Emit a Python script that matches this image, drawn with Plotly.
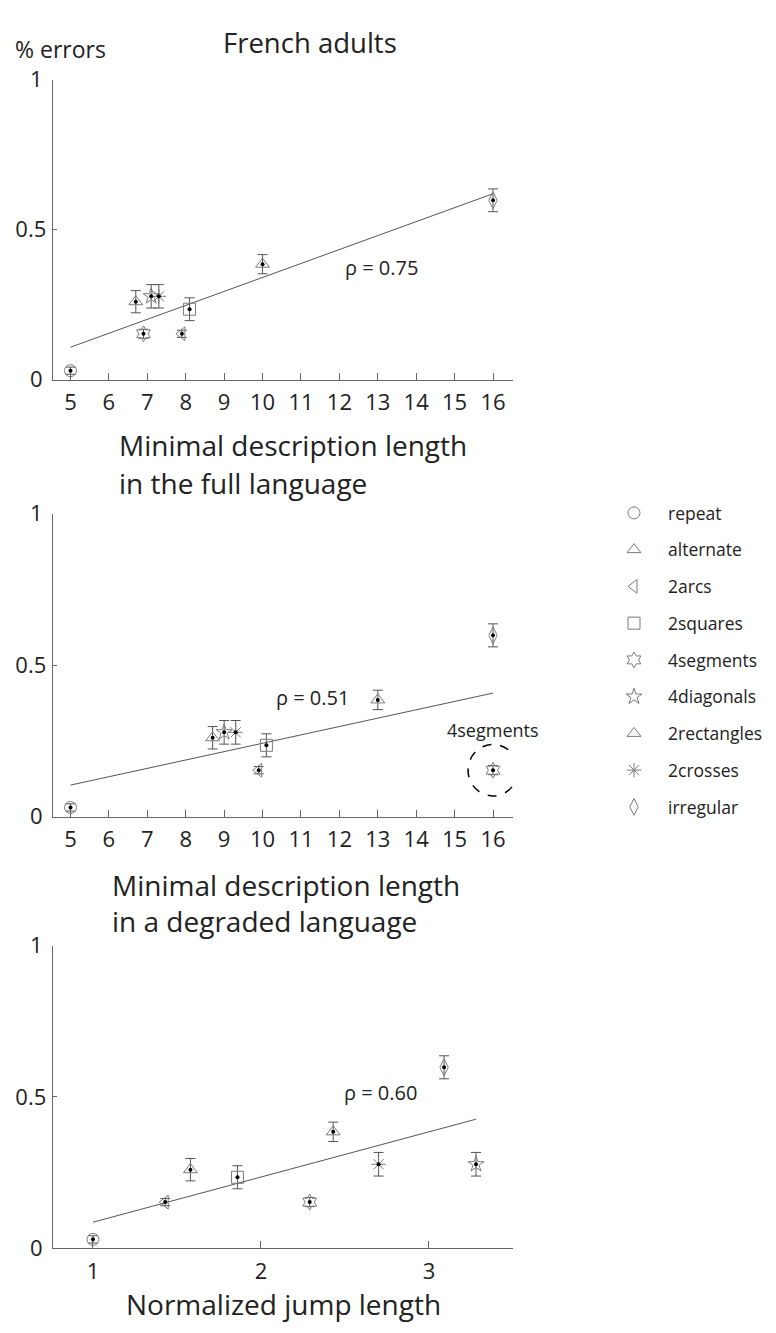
import numpy as np
import plotly.graph_objects as go

# shape categories and their markers
patterns = ['repeat', 'alternate', '2arcs', '2squares', '4segments',
            '4diagonals', '2rectangles', '2crosses', 'irregular']
symbols = ['circle-open', 'triangle-up-open', 'triangle-left-open', 'square-open',
           'hexagram-open', 'star-open', 'triangle-up-open', 'asterisk-open', 'diamond-tall-open']

# error rate (same in all three panels) and its standard error
err_rate = [0.03, 0.26, 0.153, 0.235, 0.153, 0.278, 0.385, 0.278, 0.598]
err_sem = [0.012, 0.037, 0.012, 0.038, 0.015, 0.039, 0.032, 0.039, 0.038]

# predictors
mdl_full = [5.0, 6.7, 7.9, 8.1, 6.9, 7.1, 10.0, 7.3, 16.0]
mdl_degraded = [5.0, 8.7, 9.9, 10.1, 16.0, 9.0, 13.0, 9.3, 16.0]
jump_length = [1.0, 1.58, 1.43, 1.86, 2.29, 3.28, 2.43, 2.70, 3.09]

rho_labels = ['ρ = 0.75', 'ρ = 0.51', 'ρ = 0.60']
rho_pos = [(13.1, 0.373), (11.3, 0.394), (2.71, 0.515)]

FONT = 'Open Sans'
TXT = '#222222'
GREY = '#7a7a7a'

# the page adds an 8px body margin, so the figure is a bit smaller than the window
W, H, OFF = 760, 1317, 8


def PX(a):
    return (a - OFF) / W


def PY(a):
    return 1 - (a - OFF) / H


fig = go.Figure()

panels = [(mdl_full, 'x', 'y'), (mdl_degraded, 'x2', 'y2'), (jump_length, 'x3', 'y3')]
for p, (xs, xa, ya) in enumerate(panels):
    # regression line
    k, b = np.polyfit(xs, err_rate, 1)
    xl = np.array([min(xs), max(xs)])
    fig.add_trace(go.Scatter(x=xl, y=k * xl + b, mode='lines', xaxis=xa, yaxis=ya,
                             line=dict(color='#555555', width=1), showlegend=False,
                             hoverinfo='skip'))
    for i, name in enumerate(patterns):
        fig.add_trace(go.Scatter(
            x=[xs[i]], y=[err_rate[i]], mode='markers', name=name,
            xaxis=xa, yaxis=ya, legendgroup=name, showlegend=(p == 0),
            marker=dict(symbol=symbols[i], size=12, color=GREY, line=dict(width=1, color=GREY)),
            error_y=dict(type='data', array=[err_sem[i]], color='#555555', thickness=1, width=5),
            cliponaxis=False))
    # small black dot in the middle of every marker
    fig.add_trace(go.Scatter(x=xs, y=err_rate, mode='markers', xaxis=xa, yaxis=ya,
                             marker=dict(size=4, color='black'), showlegend=False,
                             cliponaxis=False))

axis_style = dict(showline=True, linecolor='#666666', linewidth=1, ticks='inside',
                  tickcolor='#666666', showgrid=False, zeroline=False,
                  tickfont=dict(size=22, color=TXT, family=FONT))
xdom = [PX(53), PX(517)]
ydoms = [[PY(372), PY(65)], [PY(819), PY(509)], [PY(1261), PY(951)]]

layout_axes = {}
for n in range(3):
    sx = '' if n == 0 else str(n + 1)
    if n < 2:
        xr = [4.535, 16.52]
        tv = list(range(5, 17))
    else:
        xr = [0.76, 3.5]
        tv = [1, 2, 3]
    layout_axes['xaxis' + sx] = dict(axis_style, domain=xdom, range=xr, tickvals=tv,
                                     ticklen=7, anchor='y' + sx, ticklabelstandoff=3)
    layout_axes['yaxis' + sx] = dict(axis_style, domain=ydoms[n], range=[0, 1],
                                     tickvals=[0, 0.5, 1],
                                     ticktext=['0\u2009', '0.5', '1\u2009'],
                                     ticklen=4, anchor='x' + sx, ticklabelstandoff=1)

fig.update_layout(**layout_axes)


def label(text, x, y, size, xanchor='center'):
    return dict(text=text, x=PX(x), y=PY(y), xref='paper', yref='paper',
                xanchor=xanchor, yanchor='middle', showarrow=False,
                font=dict(size=size, color=TXT, family=FONT))


ann = []
for n in range(3):
    sx = '' if n == 0 else str(n + 1)
    ann.append(dict(text=rho_labels[n], x=rho_pos[n][0], y=rho_pos[n][1],
                    xref='x' + sx, yref='y' + sx, showarrow=False, yanchor='middle',
                    font=dict(size=20, color=TXT, family=FONT)))

ann += [
    label('French adults', 312, 27, 27.5),
    label('% errors', 13, 34, 23, 'left'),
    label('Minimal description length', 118, 439, 28, 'left'),
    label('in the full language', 118, 478, 28, 'left'),
    label('Minimal description length', 111, 889, 28, 'left'),
    label('in a degraded language', 111, 926, 28, 'left'),
    label('Normalized jump length', 286, 1318, 28),
    dict(text='4segments', x=16, y=0.287, xref='x2', yref='y2', showarrow=False,
         yanchor='middle', font=dict(size=18, color=TXT, family=FONT)),
]

fig.update_layout(
    width=W, height=H,
    margin=dict(l=0, r=0, t=0, b=0),
    paper_bgcolor='white', plot_bgcolor='white',
    font=dict(family=FONT, color=TXT),
    annotations=ann,
    shapes=[dict(type='circle', xref='x2', yref='y2', x0=15.35, x1=16.65, y0=0.068, y1=0.238,
                 line=dict(color='black', width=1.5, dash='dash'))],
    legend=dict(x=PX(605), y=PY(490), xanchor='left', yanchor='top',
                font=dict(size=17.5, color=TXT, family=FONT), tracegroupgap=11,
                itemwidth=58, bgcolor='rgba(0,0,0,0)'),
)

fig.write_html('out.html')
